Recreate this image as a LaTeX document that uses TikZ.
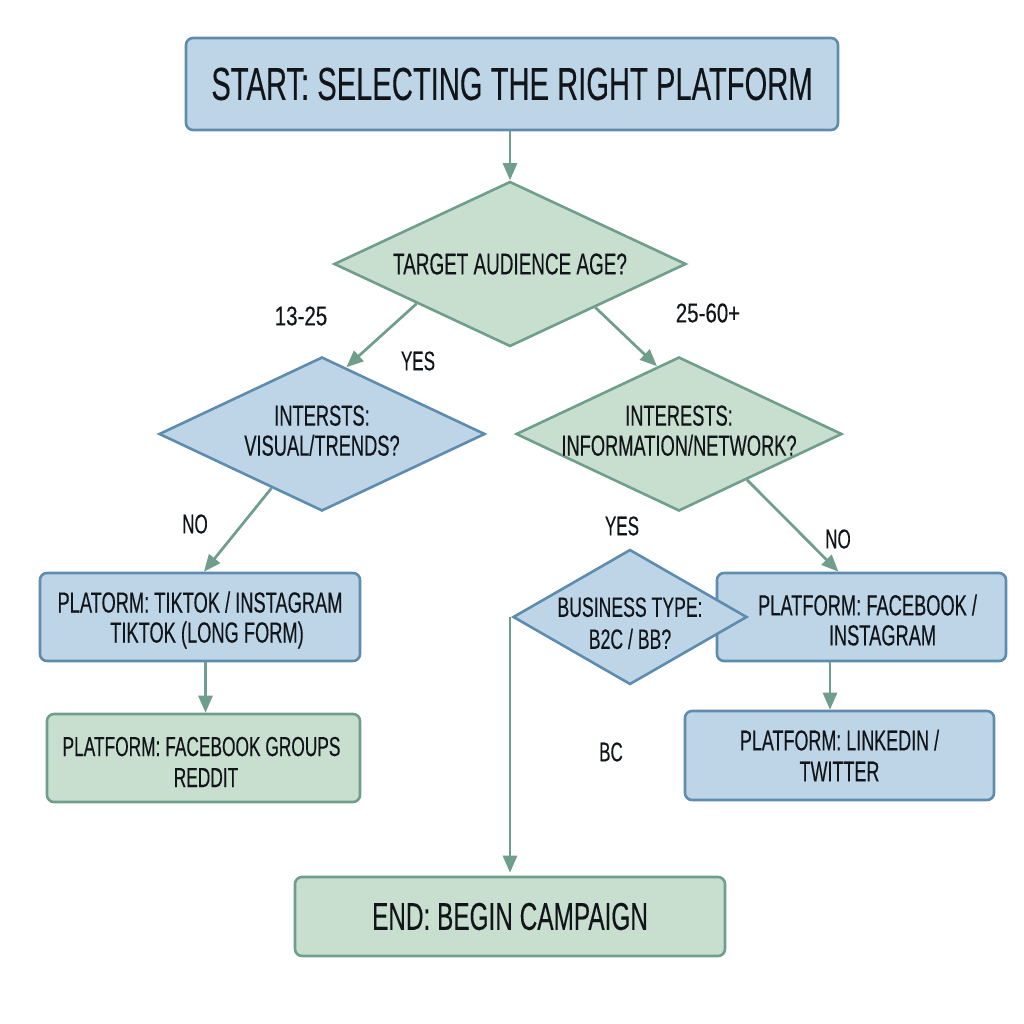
\documentclass[tikz,border=0pt]{standalone}
\usepackage{fontspec}
\setmainfont[FakeStretch=0.63,FakeBold=0.25]{Liberation Sans}
\newfontfamily\numfont[FakeStretch=0.76,FakeBold=0.2]{Liberation Sans}
\usetikzlibrary{shapes.geometric,arrows.meta}
\definecolor{bfill}{HTML}{BDD5E7}
\definecolor{bline}{HTML}{5E8CAE}
\definecolor{gfill}{HTML}{C8DFCF}
\definecolor{gline}{HTML}{6F9E8C}
\definecolor{ink}{HTML}{111418}
\newcommand{\zw}[1]{\makebox[0pt]{#1}}
\tikzset{
  x=1pt,y=-1pt,
  txt/.style={text=ink,align=center,font=\fontsize{29}{30}\selectfont,inner sep=0pt},
  boxb/.style={txt,draw=bline,fill=bfill,line width=2.6pt,rounded corners=7pt},
  boxg/.style={txt,draw=gline,fill=gfill,line width=2.6pt,rounded corners=7pt},
  dia/.style={shape=diamond,shape aspect=#1,txt,line width=2.6pt},
  flow/.style={draw=gline,line width=2.7pt,-{Triangle[width=14pt,length=17pt]}},
  lab/.style={text=ink,font=\fontsize{27}{30}\selectfont,inner sep=0pt},
  numlab/.style={text=ink,font=\numfont\fontsize{27}{30}\selectfont,inner sep=0pt}
}
\begin{document}
\begin{tikzpicture}
\useasboundingbox[fill=white] (0,0) rectangle (1024,1024);
\node[boxb,minimum width=652pt,minimum height=92pt,font=\fontsize{46.3}{50}\selectfont] (start) at (512,84) {START: SELECTING THE RIGHT PLATFORM};
\node[dia=2.13,draw=gline,fill=gfill,minimum width=352pt,minimum height=165pt,font=\fontsize{30}{34}\selectfont] (target) at (510,264) {\zw{TARGET AUDIENCE AGE?}};
\node[dia=2.12,draw=bline,fill=bfill,minimum width=326pt,minimum height=154pt] (ld) at (322,434) {\zw{INTERSTS:}\\\zw{VISUAL/TRENDS?}\rule[-7pt]{0pt}{0pt}};
\node[dia=2.12,draw=gline,fill=gfill,minimum width=326pt,minimum height=154pt] (rd) at (679,434) {\zw{INTERESTS:}\\\zw{INFORMATION/NETWORK?}\rule[-7pt]{0pt}{0pt}};
\node[boxb,minimum width=320pt,minimum height=88pt] (tiktok) at (200,617) {\rule{0pt}{27pt}PLATORM: TIKTOK / INSTAGRAM\\\hspace*{14pt}TIKTOK (LONG FORM)};
\node[boxg,minimum width=313pt,minimum height=88pt,font=\fontsize{27.5}{31}\selectfont] (groups) at (203.5,758) {\rule{0pt}{27pt}PLATFORM: FACEBOOK GROUPS\hspace*{4pt}\\\hspace*{5pt}REDDIT};
\node[boxb,minimum width=289pt,minimum height=88pt] (fb) at (861.5,617) {\rule{0pt}{27pt}\hspace*{12pt}PLATFORM: FACEBOOK /\\\hspace*{42pt}INSTAGRAM};
\node[dia=1.73,draw=bline,fill=bfill,minimum width=234pt,minimum height=135pt,font=\fontsize{28}{32}\selectfont] (biz) at (630,617) {\zw{\rule{0pt}{32pt}BUSINESS TYPE:}\\\zw{B2C / BB?}};
\node[boxb,minimum width=309pt,minimum height=89pt,font=\fontsize{28.5}{31}\selectfont] (li) at (839.5,755.5) {PLATFORM: LINKEDIN /\\TWITTER};
\node[boxg,minimum width=430pt,minimum height=79pt,font=\fontsize{38.7}{44}\selectfont] (end) at (510,916.5) {END: BEGIN CAMPAIGN};
\coordinate (bizout) at (510,617);
\draw[flow] (start.south -| target.north) -- (target.north);
\draw[flow] (target.203) -- (ld.70);
\draw[flow] (target.-27.4) -- (rd.108.7);
\draw[flow] (ld.227.7) -- (tiktok.85);
\draw[flow] (rd.-34) -- (fb.117);
\draw[flow] ([xshift=5.5pt]tiktok.south) -- ([xshift=2pt]groups.north);
\draw[flow] ([xshift=-31.5pt]fb.south) -- ([xshift=-9.5pt]li.north);
\draw[flow] (bizout) -- ([yshift=3pt]end.north);
\node[numlab] (l1) at (301,316) {13-25};
\node[lab] (l2) at (418,361) {YES};
\node[numlab] (l3) at (708,313) {25-60+};
\node[lab] (l4) at (195,524) {NO};
\node[lab] (l5) at (622,526) {YES};
\node[lab] (l6) at (838,539) {NO};
\node[lab] (l7) at (611,752) {BC};
\end{tikzpicture}
\end{document}
